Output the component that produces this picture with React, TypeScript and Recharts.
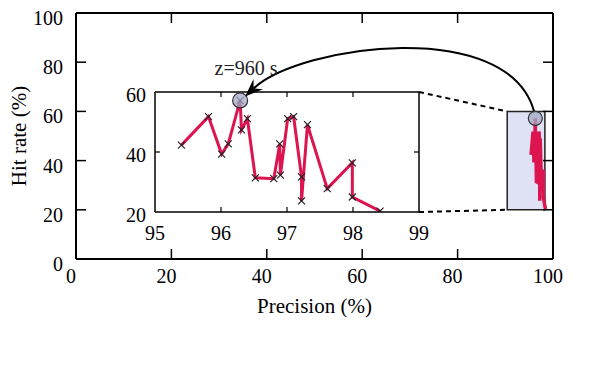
import React from 'react';
import {
  ComposedChart,
  Line,
  XAxis,
  YAxis,
  ReferenceArea,
  ReferenceDot,
  Customized,
} from 'recharts';

// ---------- data ----------
const precision = [95.40, 95.81, 96.01, 96.11, 96.29, 96.31, 96.40, 96.52, 96.80, 96.89, 96.90, 97.01, 97.10, 97.22, 97.22, 97.31, 97.61, 97.99, 97.99, 98.41];
const hitRate = [42.3, 51.8, 39.3, 42.7, 57.2, 47.4, 51.1, 31.4, 31.1, 42.7, 32.3, 51.1, 51.8, 31.7, 23.7, 49.1, 27.8, 36.4, 25.0, 20.3];
const mainTicks = [0, 20, 40, 60, 80, 100];
const insetXTicks = [95, 96, 97, 98, 99];
const insetYTicks = [20, 40, 60];
const zoomBox = { x1: 90.4, x2: 98.3, y1: 20, y2: 60 };
const highlight = { x: 96.29, y: 57.2 };
const annotationText = 'z=960 s';
const xTitle = 'Precision (%)';
const yTitle = 'Hit rate (%)';

const data = precision.map((p, i) => ({ precision: p, hit: hitRate[i] }));

// ---------- layout ----------
const W = 582;
const H = 352;
const MAIN = { left: 68, top: 5, right: 545, bottom: 251 };
const INSET = { left: 147, top: 84, right: 411, bottom: 204 };
const FONT = "'Liberation Serif', 'Times New Roman', serif";
const RED = '#dc1450';

const mx = (v: number) => MAIN.left + (v / 100) * (MAIN.right - MAIN.left);
const my = (v: number) => MAIN.bottom - (v / 100) * (MAIN.bottom - MAIN.top);
const ix = (v: number) => INSET.left + ((v - 95) / 4) * (INSET.right - INSET.left);
const iy = (v: number) => INSET.bottom - ((v - 20) / 40) * (INSET.bottom - INSET.top);

// ---------- main ticks ----------
const MainBottomTick = (p: any) => {
  const v = p.payload.value;
  return (
    <g>
      {v > 0 && v < 100 && <line x1={p.x} x2={p.x} y1={p.y} y2={p.y - 10} stroke="#000" strokeWidth={1.5} />}
      <text x={p.x - 5} y={p.y + 24} textAnchor="middle" fontSize={20} fontFamily={FONT} fill="#000">{v}</text>
    </g>
  );
};
const MainLeftTick = (p: any) => {
  const v = p.payload.value;
  return (
    <g>
      {v > 0 && v < 100 && <line x1={p.x} x2={p.x + 10} y1={p.y} y2={p.y} stroke="#000" strokeWidth={1.5} />}
      <text x={p.x - 13} y={p.y + 12} textAnchor="end" fontSize={20} fontFamily={FONT} fill="#000">{v}</text>
    </g>
  );
};
const MainTopTick = (p: any) => {
  const v = p.payload.value;
  return v > 0 && v < 100 ? <line x1={p.x} x2={p.x} y1={p.y} y2={p.y + 10} stroke="#000" strokeWidth={1.5} /> : <g />;
};
const MainRightTick = (p: any) => {
  const v = p.payload.value;
  return v > 0 && v < 100 ? <line x1={p.x} x2={p.x - 10} y1={p.y} y2={p.y} stroke="#000" strokeWidth={1.5} /> : <g />;
};

// ---------- inset ticks ----------
const InsetBottomTick = (p: any) => {
  const v = p.payload.value;
  return (
    <g>
      {v > 95 && v < 99 && <line x1={p.x} x2={p.x} y1={p.y} y2={p.y - 5} stroke="#000" strokeWidth={1.2} />}
      <text x={p.x} y={p.y + 28} textAnchor="middle" fontSize={20} fontFamily={FONT} fill="#000">{v}</text>
    </g>
  );
};
const InsetLeftTick = (p: any) => {
  const v = p.payload.value;
  return (
    <g>
      {v > 20 && v < 60 && <line x1={p.x} x2={p.x + 5} y1={p.y} y2={p.y} stroke="#000" strokeWidth={1.2} />}
      <text x={p.x - 9} y={p.y + 10} textAnchor="end" fontSize={20} fontFamily={FONT} fill="#000">{v}</text>
    </g>
  );
};
const InsetTopTick = (p: any) => {
  const v = p.payload.value;
  return v > 95 && v < 99 ? <line x1={p.x} x2={p.x} y1={p.y} y2={p.y + 5} stroke="#000" strokeWidth={1.2} /> : <g />;
};
const InsetRightTick = (p: any) => {
  const v = p.payload.value;
  return v > 20 && v < 60 ? <line x1={p.x} x2={p.x - 5} y1={p.y} y2={p.y} stroke="#000" strokeWidth={1.2} /> : <g />;
};

const CrossDot = (p: any) => {
  const { cx, cy } = p;
  if (cx == null || cy == null) return <g />;
  const s = 3.5;
  return (
    <path
      d={`M${cx - s},${cy - s}L${cx + s},${cy + s}M${cx - s},${cy + s}L${cx + s},${cy - s}`}
      stroke="#222"
      strokeWidth={1.2}
      fill="none"
    />
  );
};

// ---------- annotations (arrow, connectors, titles) ----------
const Overlay = () => {
  const p0 = { x: mx(highlight.x) - 1, y: my(highlight.y) - 6 };
  const p3 = { x: ix(highlight.x) + 5, y: iy(highlight.y) - 4 };
  const p1 = { x: p0.x - 25, y: 8 };
  const p2 = { x: 292, y: 37 };
  const dx = p3.x - p2.x;
  const dy = p3.y - p2.y;
  const len = Math.hypot(dx, dy);
  const u = { x: dx / len, y: dy / len };
  const n = { x: -u.y, y: u.x };
  const L = 18;
  const Wd = 7;
  const back = { x: p3.x - L * u.x, y: p3.y - L * u.y };
  const notch = { x: p3.x - 0.65 * L * u.x, y: p3.y - 0.65 * L * u.y };
  const b1 = { x: back.x + Wd * n.x, y: back.y + Wd * n.y };
  const b2 = { x: back.x - Wd * n.x, y: back.y - Wd * n.y };
  const end = notch;
  return (
    <g>
      <line x1={INSET.right} y1={INSET.top} x2={mx(zoomBox.x1)} y2={my(zoomBox.y2)} stroke="#000" strokeWidth={2} strokeDasharray="5 4" />
      <line x1={INSET.right} y1={INSET.bottom} x2={mx(zoomBox.x1)} y2={my(zoomBox.y1)} stroke="#000" strokeWidth={2} strokeDasharray="5 4" />
      <path
        d={`M${p0.x},${p0.y} C${p1.x},${p1.y} ${p2.x},${p2.y} ${end.x},${end.y}`}
        stroke="#000"
        strokeWidth={2}
        fill="none"
      />
      <polygon
        points={`${p3.x},${p3.y} ${b1.x},${b1.y} ${notch.x},${notch.y} ${b2.x},${b2.y}`}
        fill="#000"
      />
      <text x={238} y={67} textAnchor="middle" fontSize={20} fontFamily={FONT} fill="#222">{annotationText}</text>
      <text x={(MAIN.left + MAIN.right) / 2} y={305} textAnchor="middle" fontSize={21} fontFamily={FONT} fill="#000">{xTitle}</text>
      <text
        x={11}
        y={(MAIN.top + MAIN.bottom) / 2}
        textAnchor="middle"
        dominantBaseline="central"
        fontSize={21}
        fontFamily={FONT}
        fill="#000"
        transform={`rotate(-90 11 ${(MAIN.top + MAIN.bottom) / 2})`}
      >
        {yTitle}
      </text>
    </g>
  );
};

export default function App() {
  const axisLineMain = { stroke: '#000', strokeWidth: 2 };
  const axisLineInset = { stroke: '#000', strokeWidth: 1.5 };
  return (
    <div style={{ position: 'relative', width: W, height: H, background: '#fff' }}>
      {/* inset chart (below) */}
      <div style={{ position: 'absolute', left: 0, top: 0 }}>
        <ComposedChart
          width={W}
          height={H}
          data={data}
          margin={{ top: INSET.top - 1, left: INSET.left - 60, right: W - INSET.right - 1, bottom: H - INSET.bottom - 40 }}
        >
          <XAxis dataKey="precision" type="number" domain={[95, 99]} ticks={insetXTicks} interval={0} height={40}
            tickSize={0} tickMargin={0} tickLine={false} axisLine={axisLineInset} tick={InsetBottomTick} allowDataOverflow />
          <XAxis xAxisId="top" orientation="top" dataKey="precision" type="number" domain={[95, 99]} ticks={insetXTicks} interval={0} height={1}
            tickSize={0} tickMargin={0} tickLine={false} axisLine={axisLineInset} tick={InsetTopTick} allowDataOverflow />
          <YAxis type="number" domain={[20, 60]} ticks={insetYTicks} interval={0} width={60}
            tickSize={0} tickMargin={0} tickLine={false} axisLine={axisLineInset} tick={InsetLeftTick} allowDataOverflow />
          <YAxis yAxisId="right" orientation="right" type="number" domain={[20, 60]} ticks={insetYTicks} interval={0} width={1}
            tickSize={0} tickMargin={0} tickLine={false} axisLine={axisLineInset} tick={InsetRightTick} allowDataOverflow />
          <Line dataKey="hit" stroke={RED} strokeWidth={3} dot={CrossDot} isAnimationActive={false} />
          <ReferenceDot x={highlight.x} y={highlight.y} r={7.5} fill="#a3a8c4" fillOpacity={0.75} stroke="#333" strokeWidth={1.2} />
        </ComposedChart>
      </div>
      {/* main chart (on top, transparent) */}
      <div style={{ position: 'absolute', left: 0, top: 0 }}>
        <ComposedChart
          width={W}
          height={H}
          data={data}
          margin={{ top: MAIN.top - 1, left: MAIN.left - 60, right: W - MAIN.right - 1, bottom: H - MAIN.bottom - 60 }}
        >
          <XAxis dataKey="precision" type="number" domain={[0, 100]} ticks={mainTicks} interval={0} height={60}
            tickSize={0} tickMargin={0} tickLine={false} axisLine={axisLineMain} tick={MainBottomTick} allowDataOverflow />
          <XAxis xAxisId="top" orientation="top" dataKey="precision" type="number" domain={[0, 100]} ticks={mainTicks} interval={0} height={1}
            tickSize={0} tickMargin={0} tickLine={false} axisLine={axisLineMain} tick={MainTopTick} allowDataOverflow />
          <YAxis type="number" domain={[0, 100]} ticks={mainTicks} interval={0} width={60}
            tickSize={0} tickMargin={0} tickLine={false} axisLine={axisLineMain} tick={MainLeftTick} allowDataOverflow />
          <YAxis yAxisId="right" orientation="right" type="number" domain={[0, 100]} ticks={mainTicks} interval={0} width={1}
            tickSize={0} tickMargin={0} tickLine={false} axisLine={axisLineMain} tick={MainRightTick} allowDataOverflow />
          <ReferenceArea x1={zoomBox.x1} x2={zoomBox.x2} y1={zoomBox.y1} y2={zoomBox.y2} fill="#dfe2f4" fillOpacity={1} stroke="#222" strokeWidth={1.5} />
          <Line dataKey="hit" stroke={RED} strokeWidth={3.5} dot={false} isAnimationActive={false} />
          <ReferenceDot x={highlight.x} y={highlight.y} r={7} fill="#a3a8c4" fillOpacity={0.75} stroke="#333" strokeWidth={1.2} />
          <Customized component={Overlay} />
        </ComposedChart>
      </div>
    </div>
  );
}
